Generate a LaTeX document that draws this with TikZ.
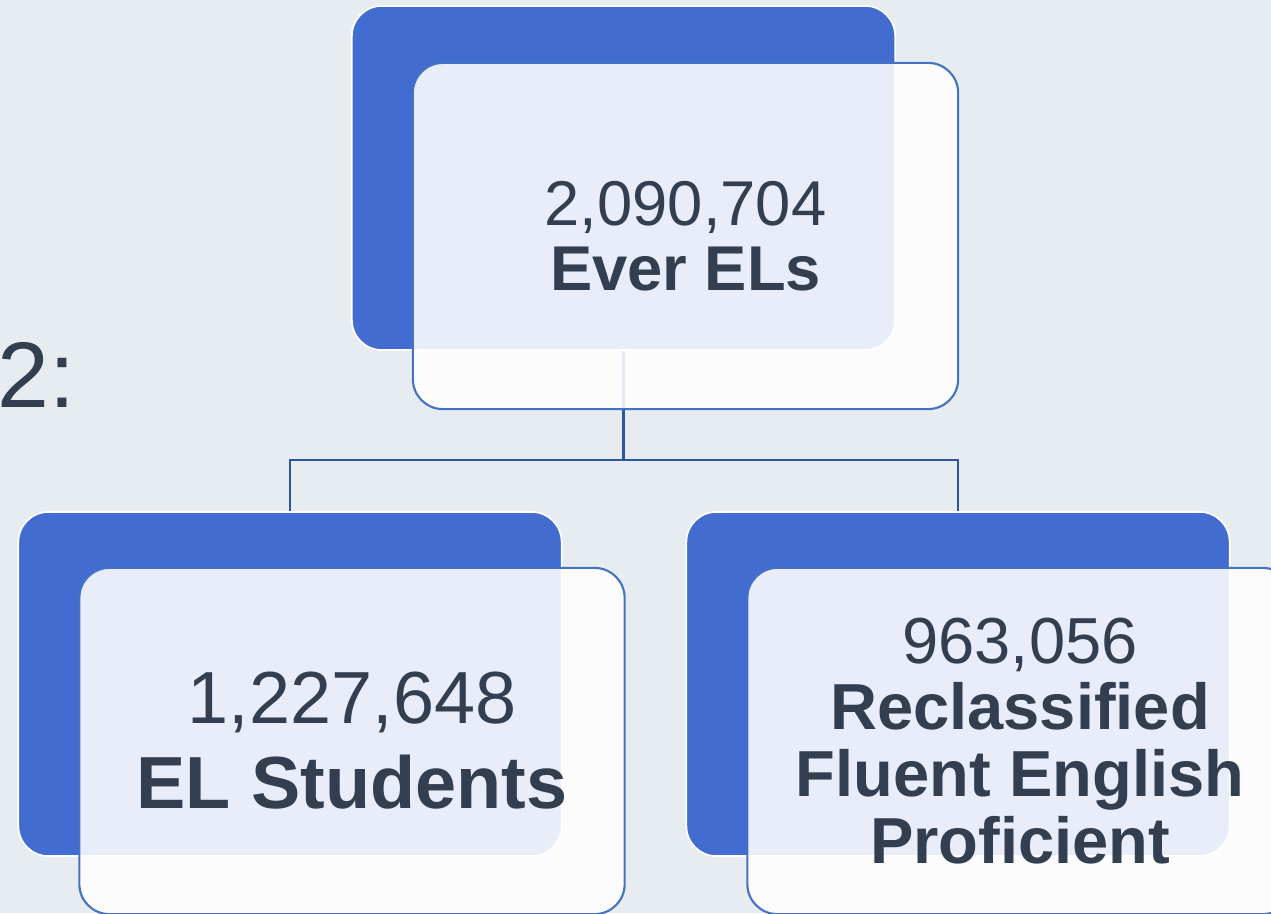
\documentclass[tikz,border=0pt]{standalone}
\usepackage{fontspec}
\setmainfont{Liberation Sans}
\usetikzlibrary{positioning, calc}
\definecolor{bgcol}{RGB}{231,236,240}
\definecolor{boxblue}{RGB}{66,108,207}
\definecolor{lineblue}{RGB}{68,114,196}
\definecolor{connblue}{RGB}{47,85,165}
\definecolor{txtcol}{RGB}{51,63,80}

\begin{document}
\begin{tikzpicture}[x=0.01cm, y=-0.01cm, % 像素坐标,y轴向下
  backbox/.style={draw=white, line width=0.5pt, fill=boxblue,
                  rounded corners=0.3cm, inner sep=0pt,
                  minimum width=5.43cm, minimum height=3.44cm},   % 后面的蓝色框
  frontbox/.style={draw=lineblue, line width=0.6pt, fill=white,
                   fill opacity=0.88, text opacity=1, text=txtcol,
                   rounded corners=0.3cm, inner sep=0pt, align=center,
                   minimum width=5.45cm, minimum height=3.46cm},  % 前面的半透明框
  conn/.style={draw=connblue, line width=0.6pt}]                  % 连接线
% 背景与画布大小
\fill[bgcol] (0,0) rectangle (1271,913);
\useasboundingbox (0,0) rectangle (1271,913);
% 左侧标题文字(只露出一部分)
\node[anchor=base east, text=txtcol, inner sep=0pt,
      font=\fontsize{26.5}{30}\selectfont] (pagenum) at (76,407) {2:};
% 三个蓝色底框
\node[backbox] (topback)   at (623.5,178) {};
\node[backbox] (leftback)  at (290,684) {};
\node[backbox] (rightback) at (958,684) {};
% 树形连接线,先画,让前景框盖住
\coordinate (fork) at ($(topback.south)+(0,109)$);
\draw[conn] (topback.south) -- (fork) -| (leftback.north);
\draw[conn] (fork) -| (rightback.north);
% 前景框及文字
\node[frontbox, font=\fontsize{18}{18.5}\selectfont] (topfront)
     at ($(topback.center)+(62,58)$) {2,090,704\\\textbf{Ever ELs}};
\node[frontbox, font=\fontsize{21}{24.2}\selectfont] (leftfront)
     at ($(leftback.center)+(62,57)$) {1,227,648\\\textbf{EL Students}};
\node[frontbox, font=\fontsize{18.5}{19}\selectfont] (rightfront)
     at ($(rightback.center)+(62,57)$)
     {963,056\\\textbf{Reclassified}\\\textbf{Fluent English}\\\textbf{Proficient}};
\end{tikzpicture}
\end{document}
